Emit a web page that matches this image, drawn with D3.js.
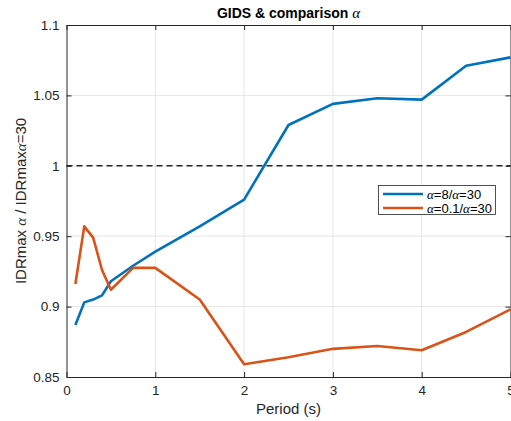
<!DOCTYPE html>
<html>
<head>
<meta charset="utf-8">
<script src="https://cdn.jsdelivr.net/npm/d3@7"></script>
<style>
  html, body { margin: 0; padding: 0; background: #fff; }
  svg { display: block; }
  text { font-family: "Liberation Sans", Arial, Helvetica, sans-serif; }
  .greek { font-family: "Liberation Serif", "Times New Roman", serif; font-style: italic; }
</style>
</head>
<body>
<div id="chart"></div>
<script>
// Period samples (s)
const periods = [0.1, 0.2, 0.3, 0.4, 0.5, 0.75, 1, 1.5, 2, 2.5, 3, 3.5, 4, 4.5, 5];
// Ratio IDRmax(alpha) / IDRmax(alpha=30)
const ratioAlpha8 = [0.887, 0.903, 0.905, 0.908, 0.918, 0.929, 0.939, 0.957, 0.976, 1.029, 1.044, 1.048, 1.047, 1.071, 1.077];
const ratioAlpha01 = [0.916, 0.957, 0.949, 0.926, 0.912, 0.9275, 0.9275, 0.905, 0.859, 0.864, 0.870, 0.872, 0.869, 0.882, 0.898];
const xTicks = [0, 1, 2, 3, 4, 5];
const yTicks = [0.85, 0.9, 0.95, 1, 1.05, 1.1];
const seriesNames = [["=8/", "=30"], ["=0.1/", "=30"]];

const W = 511, H = 421;
const m = { left: 66.5, right: 0.5, top: 25, bottom: 44 };

const svg = d3.select("#chart").append("svg").attr("width", W).attr("height", H);

const x = d3.scaleLinear().domain([0, 5]).range([m.left, W - m.right]);
const y = d3.scaleLinear().domain([0.85, 1.1]).range([H - m.bottom, m.top]);

// grid
svg.append("g").selectAll("line.gx").data(xTicks.slice(1, -1)).join("line")
  .attr("x1", d => x(d)).attr("x2", d => x(d))
  .attr("y1", y(0.85)).attr("y2", y(1.1))
  .attr("stroke", "#e6e6e6").attr("stroke-width", 1);
svg.append("g").selectAll("line.gy").data(yTicks.slice(1, -1)).join("line")
  .attr("x1", x(0)).attr("x2", x(5))
  .attr("y1", d => y(d)).attr("y2", d => y(d))
  .attr("stroke", "#e6e6e6").attr("stroke-width", 1);

// reference line at ratio = 1
svg.append("line")
  .attr("x1", x(0)).attr("x2", x(5)).attr("y1", y(1)).attr("y2", y(1))
  .attr("stroke", "#262626").attr("stroke-width", 1.5).attr("stroke-dasharray", "6,4");

// axes
const axisColor = "#262626";
const xAxis = svg.append("g").attr("transform", `translate(0,${y(0.85)})`)
  .call(d3.axisBottom(x).tickValues(xTicks).tickFormat(d3.format("d")).tickSizeInner(-5).tickSizeOuter(0).tickPadding(8));
const xAxisTop = svg.append("g").attr("transform", `translate(0,${y(1.1)})`)
  .call(d3.axisTop(x).tickValues(xTicks).tickFormat("").tickSizeInner(-5).tickSizeOuter(0));
const yAxis = svg.append("g").attr("transform", `translate(${x(0)},0)`)
  .call(d3.axisLeft(y).tickValues(yTicks).tickFormat(d => d3.format("")(+d.toFixed(2))).tickSizeInner(-5).tickSizeOuter(0).tickPadding(7));
const yAxisRight = svg.append("g").attr("transform", `translate(${x(5)},0)`)
  .call(d3.axisRight(y).tickValues(yTicks).tickFormat("").tickSizeInner(-5).tickSizeOuter(0));

[xAxis, xAxisTop, yAxis, yAxisRight].forEach(g => {
  g.selectAll("path").attr("stroke", axisColor).attr("stroke-width", 1);
  g.selectAll("line").attr("stroke", axisColor).attr("stroke-width", 1);
  g.selectAll("text").attr("fill", "#262626").style("font-size", "13.5px")
    .style("font-family", "'Liberation Sans', Arial, sans-serif");
});

// series
const line = d3.line().x(d => x(d[0])).y(d => y(d[1]));
const colors = ["#0072BD", "#D95319"];
[ratioAlpha8, ratioAlpha01].forEach((vals, i) => {
  svg.append("path")
    .datum(periods.map((p, k) => [p, vals[k]]))
    .attr("d", line)
    .attr("fill", "none")
    .attr("stroke", colors[i])
    .attr("stroke-width", 2.6)
    .attr("stroke-linejoin", "round");
});

// title
const title = svg.append("text")
  .attr("x", (x(0) + x(5)) / 2).attr("y", 18)
  .attr("text-anchor", "middle")
  .style("font-size", "14px").style("font-weight", "bold").attr("fill", "#000");
title.append("tspan").text("GIDS & comparison ");
title.append("tspan").attr("class", "greek").style("font-weight", "normal").style("font-size", "15px").text("α");

// x label
svg.append("text")
  .attr("x", (x(0) + x(5)) / 2).attr("y", 414)
  .attr("text-anchor", "middle")
  .style("font-size", "15px").attr("fill", "#262626")
  .text("Period (s)");

// y label
const yl = svg.append("text")
  .attr("transform", `translate(26,${(y(0.85) + y(1.1)) / 2}) rotate(-90)`)
  .attr("text-anchor", "middle")
  .style("font-size", "15px").attr("fill", "#262626");
yl.append("tspan").text("IDRmax ");
yl.append("tspan").attr("class", "greek").text("α");
yl.append("tspan").text(" / IDRmax");
yl.append("tspan").attr("class", "greek").text("α");
yl.append("tspan").text("=30");

// legend
const lg = svg.append("g");
lg.append("rect")
  .attr("x", 378.5).attr("y", 185.5).attr("width", 117).attr("height", 29)
  .attr("fill", "#fff").attr("stroke", "#262626").attr("stroke-width", 0.8);
seriesNames.forEach((nm, i) => {
  const yy = 194 + i * 14;
  lg.append("line").attr("x1", 383).attr("x2", 423).attr("y1", yy).attr("y2", yy)
    .attr("stroke", colors[i]).attr("stroke-width", 2.6);
  const t = lg.append("text").attr("x", 427).attr("y", yy + 4.5)
    .style("font-size", "13px").attr("fill", "#000");
  t.append("tspan").attr("class", "greek").text("α");
  t.append("tspan").text(nm[0]);
  t.append("tspan").attr("class", "greek").text("α");
  t.append("tspan").text(nm[1]);
});
</script>
</body>
</html>
